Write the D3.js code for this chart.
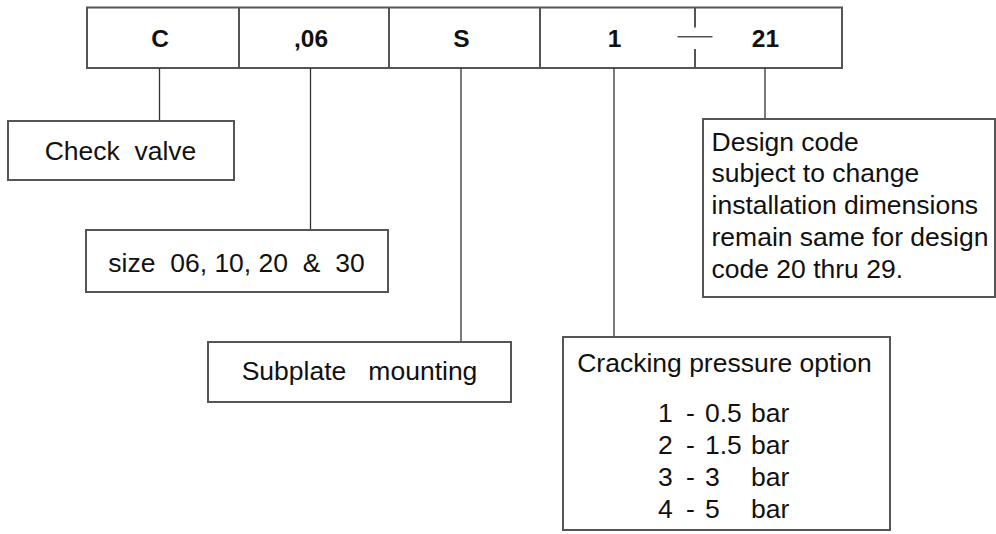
<!DOCTYPE html>
<html>
<head>
<meta charset="utf-8">
<script src="https://cdn.jsdelivr.net/npm/d3@7"></script>
<style>
  html, body { margin: 0; padding: 0; background: #fff; }
  svg { display: block; }
  text { font-family: "Liberation Sans", Arial, Helvetica, sans-serif; fill: #111; white-space: pre; }
</style>
</head>
<body>
<svg id="chart" width="996" height="534"></svg>
<script>
// ---- data ----
const codeLabels = ["C", ",06", "S", "1", "21"];
const checkValveText = ["Check  valve"];
const sizeText = ["size  06, 10, 20  &  30"];
const mountingText = ["Subplate   mounting"];
const pressureTitle = ["Cracking pressure option"];
const pressureCodes = ["1", "2", "3", "4"];
const pressureValues = ["0.5", "1.5", "3", "5"];
const pressureUnit = ["bar", "bar", "bar", "bar"];
const designText = [
  "Design code",
  "subject to change",
  "installation dimensions",
  "remain same for design",
  "code 20 thru 29."
];

// ---- layout ----
const svg = d3.select("#chart");
const lineCol = "#555", connCol = "#333";

// code row: piecewise scale from cell boundary index to x
const cellX = d3.scaleLinear().domain([0, 1, 2, 3, 4, 5]).range([87, 239, 389, 540, 695, 842]);
const rowTop = 7.5, rowBot = 68;
const cellMid = i => (cellX(i) + cellX(i + 1)) / 2;

const gRow = svg.append("g");
gRow.append("rect")
  .attr("x", cellX(0)).attr("y", rowTop)
  .attr("width", cellX(5) - cellX(0)).attr("height", rowBot - rowTop)
  .attr("fill", "none").attr("stroke", lineCol).attr("stroke-width", 2);

gRow.selectAll("line.div").data([1, 2, 3]).join("line")
  .attr("x1", d => cellX(d)).attr("x2", d => cellX(d))
  .attr("y1", rowTop).attr("y2", rowBot)
  .attr("stroke", lineCol).attr("stroke-width", 2);

const bx = cellX(4);
gRow.append("line").attr("x1", bx).attr("x2", bx).attr("y1", rowTop).attr("y2", 27.5)
  .attr("stroke", lineCol).attr("stroke-width", 2);
gRow.append("line").attr("x1", bx).attr("x2", bx).attr("y1", 49).attr("y2", rowBot)
  .attr("stroke", lineCol).attr("stroke-width", 2);
gRow.append("line").attr("x1", bx - 17.5).attr("x2", bx + 17.5).attr("y1", 36.7).attr("y2", 36.7)
  .attr("stroke", lineCol).attr("stroke-width", 1.5);

gRow.selectAll("text.code").data(codeLabels).join("text")
  .attr("class", "code")
  .attr("x", (d, i) => cellMid(i) - 3)
  .attr("y", 47.3)
  .attr("text-anchor", "middle")
  .attr("font-size", 24.5).attr("font-weight", "bold")
  .text(d => d);

// description boxes
const boxes = [
  { cell: 0, x0: 8, y0: 121, x1: 234, y1: 180 },
  { cell: 1, x0: 86, y0: 230, x1: 388, y1: 292 },
  { cell: 2, x0: 208, y0: 342, x1: 511, y1: 402 },
  { cell: 3, x0: 563, y0: 337, x1: 890, y1: 530 },
  { cell: 4, x0: 703, y0: 119, x1: 995, y1: 297 }
];

svg.selectAll("line.conn").data(boxes).join("line")
  .attr("x1", d => cellMid(d.cell) - 3.5).attr("x2", d => cellMid(d.cell) - 3.5)
  .attr("y1", rowBot).attr("y2", d => d.y0)
  .attr("stroke", connCol).attr("stroke-width", 1.3);

svg.selectAll("rect.box").data(boxes).join("rect")
  .attr("x", d => d.x0).attr("y", d => d.y0)
  .attr("width", d => d.x1 - d.x0).attr("height", d => d.y1 - d.y0)
  .attr("fill", "none").attr("stroke", lineCol).attr("stroke-width", 2);

const fs = 26.5;
function centred(arr, cx, y) {
  svg.append("g").selectAll("text").data(arr).join("text")
    .attr("x", cx).attr("y", y).attr("text-anchor", "middle")
    .attr("font-size", fs).text(d => d);
}
centred(checkValveText, 120.5, 159.5);
centred(sizeText, 236.5, 272);
centred(mountingText, 359.5, 380);
centred(pressureTitle, 724.5, 372);

const lineStep = 31.9;
const gP = svg.append("g");
gP.selectAll("text.pc").data(pressureCodes).join("text")
  .attr("x", 658).attr("y", (d, i) => 422 + i * lineStep)
  .attr("font-size", fs).text(d => d);
gP.selectAll("text.pd").data(pressureCodes).join("text")
  .attr("x", 690.5).attr("y", (d, i) => 422 + i * lineStep)
  .attr("text-anchor", "middle")
  .attr("font-size", fs).text("-");
gP.selectAll("text.pv").data(pressureValues).join("text")
  .attr("x", 705).attr("y", (d, i) => 422 + i * lineStep)
  .attr("font-size", fs).text(d => d);
gP.selectAll("text.pu").data(pressureUnit).join("text")
  .attr("x", 751).attr("y", (d, i) => 422 + i * lineStep)
  .attr("font-size", fs).text(d => d);

svg.append("g").selectAll("text").data(designText).join("text")
  .attr("x", 711.5).attr("y", (d, i) => 150.5 + i * 31.75)
  .attr("font-size", fs).text(d => d);
</script>
</body>
</html>
